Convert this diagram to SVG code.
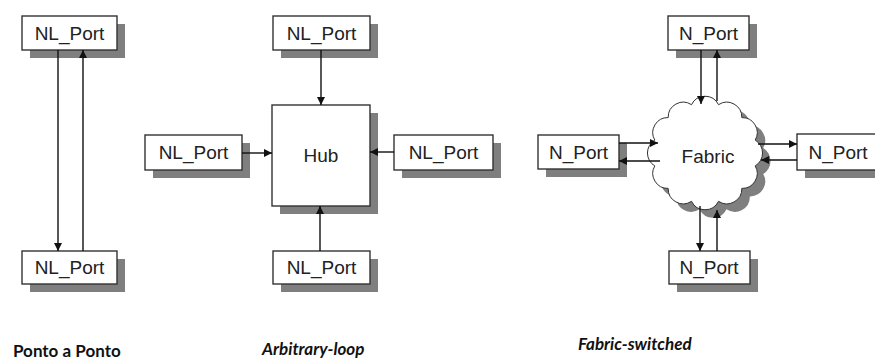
<svg xmlns="http://www.w3.org/2000/svg" width="875" height="360" viewBox="0 0 875 360">
<style>
.sh{fill:#7f7f7f}
.bx{fill:#fff;stroke:#333;stroke-width:1.4}
.t{font-family:"Liberation Sans",Arial,sans-serif;font-size:19px;fill:#222;text-anchor:middle}
.c{stroke:#111;stroke-width:1.4;fill:none;marker-end:url(#ah)}
.lb{font-family:Lato,"Open Sans",sans-serif;font-weight:bold;font-size:17px;fill:#111}
</style>
<defs>
<marker id="ah" viewBox="0 0 10 10" refX="10" refY="5" markerWidth="9" markerHeight="8" markerUnits="userSpaceOnUse" orient="auto"><path d="M0,0 L10,5 L0,10 z" fill="#111"/></marker>
<path id="cloud" d="M654.8,140.1 A15,15 0 0 1 668.2,117.6 A15,15 0 0 1 691.5,104.7 A15,15 0 0 1 718.5,104.7 A15,15 0 0 1 741.8,117.6 A15,15 0 0 1 755.2,140.1 A15,15 0 0 1 755.2,165.9 A15,15 0 0 1 741.8,188.4 A15,15 0 0 1 718.5,201.3 A15,15 0 0 1 691.5,201.3 A15,15 0 0 1 668.2,188.4 A15,15 0 0 1 654.8,165.9 A15,15 0 0 1 654.8,140.1 Z"/>
</defs>
<rect width="875" height="360" fill="#fff"/>

<!-- Ponto a Ponto -->
<g id="p2p-top"><rect class="sh" x="30" y="24" width="95" height="34"/><rect class="bx" x="22" y="16" width="95" height="34"/><text class="t" x="69.5" y="39.5">NL_Port</text></g>
<g id="p2p-bottom"><rect class="sh" x="30" y="259" width="95" height="33"/><rect class="bx" x="22" y="251" width="95" height="33"/><text class="t" x="69.5" y="274">NL_Port</text></g>

<!-- Arbitrary loop -->
<g id="al-top"><rect class="sh" x="281" y="24" width="97" height="34"/><rect class="bx" x="273" y="16" width="97" height="34"/><text class="t" x="321.5" y="39.5">NL_Port</text></g>
<g id="al-left"><rect class="sh" x="153" y="143" width="97" height="35"/><rect class="bx" x="145" y="135" width="97" height="35"/><text class="t" x="193.5" y="159">NL_Port</text></g>
<g id="al-hub"><rect class="sh" x="280" y="113" width="98" height="101"/><rect class="bx" x="272" y="105" width="98" height="101"/><text class="t" x="321" y="162">Hub</text></g>
<g id="al-right"><rect class="sh" x="402" y="143" width="99" height="35"/><rect class="bx" x="394" y="135" width="99" height="35"/><text class="t" x="443.5" y="159">NL_Port</text></g>
<g id="al-bottom"><rect class="sh" x="281" y="259" width="97" height="33"/><rect class="bx" x="273" y="251" width="97" height="33"/><text class="t" x="321.5" y="274">NL_Port</text></g>

<!-- Fabric switched -->
<g id="fs-top"><rect class="sh" x="676" y="24" width="81" height="34"/><rect class="bx" x="668" y="16" width="81" height="34"/><text class="t" x="708.5" y="39.5">N_Port</text></g>
<g id="fs-left"><rect class="sh" x="546" y="143" width="81" height="34"/><rect class="bx" x="538" y="135" width="81" height="34"/><text class="t" x="578.5" y="158.5">N_Port</text></g>
<g id="fs-fabric"><use href="#cloud" x="8" y="8" class="sh"/><use href="#cloud" fill="#fff" stroke="#333" stroke-width="1"/><text class="t" x="708" y="163">Fabric</text></g>
<g id="fs-right"><rect class="sh" x="805" y="142" width="81" height="36"/><rect class="bx" x="797" y="134" width="81" height="36"/><text class="t" x="838" y="158.5">N_Port</text></g>
<g id="fs-bottom"><rect class="sh" x="677" y="259" width="81" height="33"/><rect class="bx" x="669" y="251" width="81" height="33"/><text class="t" x="709" y="274">N_Port</text></g>

<g id="connectors">
<line class="c" x1="58" y1="50" x2="58" y2="251"/>
<line class="c" x1="83" y1="251" x2="83" y2="50"/>
<line class="c" x1="321" y1="50" x2="321" y2="105"/>
<line class="c" x1="242" y1="153" x2="272" y2="153"/>
<line class="c" x1="394" y1="152" x2="370" y2="152"/>
<line class="c" x1="320" y1="251" x2="320" y2="206"/>
<line class="c" x1="701" y1="50" x2="701" y2="104"/>
<line class="c" x1="717" y1="101" x2="717" y2="50"/>
<line class="c" x1="619" y1="143" x2="658" y2="143"/>
<line class="c" x1="660" y1="161" x2="619" y2="161"/>
<line class="c" x1="758" y1="144" x2="797" y2="144"/>
<line class="c" x1="797" y1="160" x2="761" y2="160"/>
<line class="c" x1="700" y1="206" x2="700" y2="251"/>
<line class="c" x1="717" y1="251" x2="717" y2="210"/>
</g>

<text class="lb" x="13" y="357">Ponto a Ponto</text>
<text class="lb" x="262" y="355" font-style="italic">Arbitrary-loop</text>
<text class="lb" x="578" y="350" font-style="italic">Fabric-switched</text>
</svg>
